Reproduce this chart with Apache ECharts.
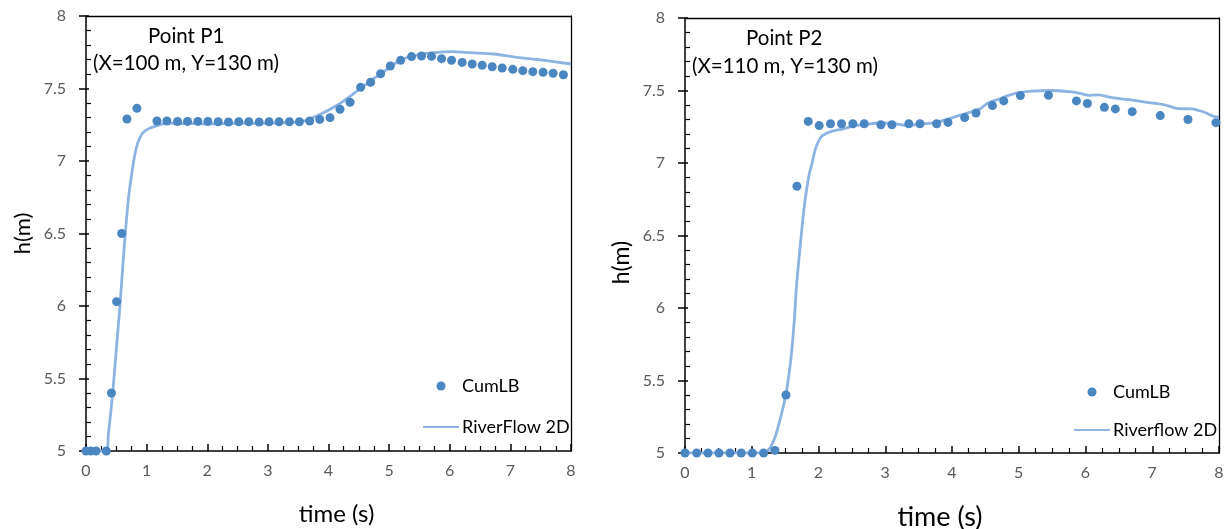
<!DOCTYPE html>
<html>
<head>
<meta charset="utf-8">
<script src="https://cdn.jsdelivr.net/npm/echarts@6/dist/echarts.min.js"></script>
<style>
  html, body { margin: 0; padding: 0; background: #fff; }
  #chart { width: 1229px; height: 529px; }
</style>
</head>
<body>
<div id="chart"></div>
<script>
// Point P1 (X=100 m, Y=130 m): CumLB samples
const p1Time = [0, 0.08, 0.165, 0.335, 0.42, 0.505, 0.588, 0.675, 0.84,
  1.17, 1.334, 1.51, 1.675, 1.845, 2.01, 2.18, 2.35, 2.52, 2.685, 2.855, 3.02,
  3.185, 3.355, 3.52, 3.69, 3.855, 4.025, 4.19, 4.355, 4.53, 4.695, 4.86, 5.02,
  5.19, 5.37, 5.535, 5.70, 5.865, 6.03, 6.205, 6.37, 6.535, 6.70, 6.865, 7.04,
  7.205, 7.37, 7.54, 7.705, 7.875];
const p1CumLB = [5, 5, 5, 5, 5.40, 6.03, 6.50, 7.29, 7.363,
  7.276, 7.276, 7.273, 7.273, 7.273, 7.273, 7.271, 7.269, 7.271, 7.271, 7.269, 7.271,
  7.271, 7.271, 7.271, 7.276, 7.287, 7.299, 7.357, 7.405, 7.508, 7.543, 7.602, 7.655,
  7.694, 7.72, 7.724, 7.722, 7.706, 7.694, 7.68, 7.669, 7.66, 7.65, 7.641, 7.632,
  7.623, 7.616, 7.612, 7.605, 7.595];

// Point P1: RiverFlow 2D result
const p1ModelTime = [0, 0.33, 0.37, 0.44, 0.50, 0.565, 0.62, 0.66, 0.70, 0.75,
  0.80, 0.85, 0.93, 1.04, 1.15, 1.37, 1.48, 1.70, 2.0, 2.5, 3.0, 3.30, 3.54,
  3.84, 4.15, 4.42, 4.64, 4.91, 5.19, 5.46, 5.74, 6.04, 6.34, 6.73, 7.11, 7.50, 8.0];
const p1Model = [5, 5, 5.12, 5.40, 5.70, 6.03, 6.35, 6.56, 6.74, 6.90,
  7.03, 7.12, 7.19, 7.225, 7.24, 7.264, 7.255, 7.26, 7.255, 7.26, 7.26, 7.265, 7.27,
  7.317, 7.386, 7.467, 7.536, 7.616, 7.697, 7.731, 7.747, 7.754, 7.747, 7.738, 7.715, 7.697, 7.669];

// Point P2 (X=110 m, Y=130 m): CumLB samples
const p2Time = [0, 0.175, 0.344, 0.509, 0.674, 0.843, 1.008, 1.178, 1.347, 1.512,
  1.677, 1.846, 2.01, 2.18, 2.345, 2.515, 2.685, 2.934, 3.10, 3.353, 3.52, 3.77,
  3.94, 4.19, 4.36, 4.606, 4.775, 5.025, 5.445, 5.864, 6.028, 6.283, 6.447, 6.70,
  7.12, 7.535, 7.954];
const p2CumLB = [5, 5, 5, 5, 5, 5, 5, 5, 5.018, 5.40,
  6.84, 7.287, 7.258, 7.271, 7.271, 7.271, 7.271, 7.264, 7.264, 7.271, 7.271, 7.271,
  7.28, 7.313, 7.345, 7.396, 7.428, 7.465, 7.467, 7.428, 7.41, 7.384, 7.373, 7.354,
  7.327, 7.30, 7.278];

// Point P2: Riverflow 2D result
const p2ModelTime = [0, 1.20, 1.28, 1.35, 1.43, 1.51, 1.56, 1.60, 1.64, 1.67, 1.72,
  1.77, 1.81, 1.86, 1.90, 1.95, 2.00, 2.05, 2.17, 2.37, 2.52, 2.67, 2.92, 3.17,
  3.32, 3.52, 3.72, 3.92, 4.12, 4.32, 4.42, 4.54, 4.70, 4.84, 5.00, 5.19, 5.49,
  5.79, 5.92, 6.04, 6.19, 6.39, 6.64, 6.89, 7.19, 7.39, 7.59, 7.78, 7.93, 8.0];
const p2Model = [5, 5, 5.04, 5.11, 5.24, 5.40, 5.55, 5.71, 5.93, 6.15, 6.40,
  6.63, 6.78, 6.92, 6.99, 7.09, 7.15, 7.185, 7.215, 7.235, 7.255, 7.264, 7.276, 7.269,
  7.258, 7.269, 7.276, 7.30, 7.33, 7.357, 7.373, 7.414, 7.44, 7.465, 7.485, 7.495, 7.50,
  7.49, 7.48, 7.467, 7.47, 7.451, 7.437, 7.42, 7.40, 7.375, 7.373, 7.35, 7.32, 7.316];

const FONT = 'Lato, "Open Sans", sans-serif';
const DOT = '#4a86c1';
const LINE = '#8db3e2';
const INK = '#000';

const zip = (xs, ys) => xs.map((x, i) => [x, ys[i]]);

const X_RANGE = { min: 0, max: 8, interval: 1 };
const Y_RANGE = { min: 5, max: 8, interval: 0.5 };
const hiddenSplit = () => ({ show: true, lineStyle: { color: 'rgba(0,0,0,0)' } });

// Time axis: labels plus inward major and minor ticks
function timeAxis(gi, nameSize, namePad) {
  return Object.assign({
    type: 'value', gridIndex: gi,
    name: 'time (s)', nameLocation: 'middle', nameGap: 51,
    nameTextStyle: { fontFamily: FONT, fontSize: nameSize, color: INK, padding: namePad },
    axisLine: { show: true, lineStyle: { color: INK, width: 1.5 } },
    axisTick: { show: true, inside: true, length: 7, lineStyle: { color: INK, width: 1.5 } },
    minorTick: { show: true, splitNumber: 4, length: 5, lineStyle: { color: INK, width: 1.2 } },
    axisLabel: { show: true, margin: 12, fontFamily: FONT, fontSize: 16, color: '#595959' },
    splitLine: hiddenSplit()
  }, X_RANGE);
}

function depthAxis(gi, nameSize, namePad) {
  return Object.assign({
    type: 'value', gridIndex: gi, position: 'left',
    name: 'h(m)', nameLocation: 'middle', nameGap: 52, nameRotate: 90,
    nameTextStyle: { fontFamily: FONT, fontSize: nameSize, color: INK, padding: namePad },
    axisLine: { show: true, lineStyle: { color: INK, width: 1.5 } },
    axisTick: { show: true, length: 7, lineStyle: { color: INK, width: 1.5 } },
    axisLabel: { show: true, margin: 20, fontFamily: FONT, fontSize: 16, color: '#595959' },
    splitLine: hiddenSplit()
  }, Y_RANGE);
}
// Same scale, inward major and minor ticks only
function depthTicks(gi) {
  return Object.assign({
    type: 'value', gridIndex: gi, position: 'left',
    axisLine: { show: false },
    axisTick: { show: true, inside: true, length: 3, lineStyle: { color: INK, width: 1.5 } },
    minorTick: { show: true, splitNumber: 5, length: 5, lineStyle: { color: INK, width: 1.2 } },
    axisLabel: { show: false }, splitLine: hiddenSplit()
  }, Y_RANGE);
}
// Right edge of the plot frame
function rightEdge(gi) {
  return Object.assign({
    type: 'value', gridIndex: gi, position: 'right',
    axisLine: { show: true, lineStyle: { color: INK, width: 1.3 } },
    axisTick: { show: false }, axisLabel: { show: false }, splitLine: hiddenSplit()
  }, Y_RANGE);
}

function modelSeries(name, xi, yi, data) {
  return {
    name, type: 'line', xAxisIndex: xi, yAxisIndex: yi, data,
    symbol: 'none', smooth: 0.3, z: 2,
    lineStyle: { color: LINE, width: 2.8 }, itemStyle: { color: LINE }
  };
}
// Measured points; the top edge of the frame is a mark line at h = 8
function pointSeries(xi, yi, data) {
  return {
    name: 'CumLB', type: 'scatter', xAxisIndex: xi, yAxisIndex: yi, data,
    symbol: 'circle', symbolSize: 9, z: 3,
    itemStyle: { color: DOT, opacity: 1 },
    markLine: {
      silent: true, symbol: 'none', animation: false,
      label: { show: false },
      lineStyle: { color: INK, width: 1.3, type: 'solid' },
      emphasis: { disabled: true },
      data: [{ yAxis: Y_RANGE.max }]
    }
  };
}

function legendAt(left, top, gap, lineName) {
  return {
    orient: 'vertical', left, top, itemGap: gap, itemWidth: 36, itemHeight: 9,
    selectedMode: false, padding: 0,
    textStyle: { fontFamily: FONT, fontSize: 18, color: INK, padding: [0, 0, 0, -2] },
    data: [
      { name: 'CumLB', icon: 'circle' },
      { name: lineName, itemStyle: { opacity: 0 } }
    ]
  };
}

function label(text, left, top) {
  return {
    text, left, top, padding: 0,
    textStyle: { fontFamily: FONT, fontSize: 20.5, fontWeight: 'normal', color: INK }
  };
}

const chart = echarts.init(document.getElementById('chart'), null, { renderer: 'canvas' });
chart.setOption({
  animation: false,
  backgroundColor: '#fff',
  title: [
    label('Point P1', 148, 26),
    label('(X=100 m, Y=130 m)', 93, 53),
    label('Point P2', 746, 28),
    label('(X=110 m, Y=130 m)', 692, 56)
  ],
  grid: [
    { left: 86, right: 658, top: 16, bottom: 78, outerBoundsMode: 'none' },
    { left: 685, right: 10, top: 18, bottom: 76, outerBoundsMode: 'none' }
  ],
  xAxis: [
    timeAxis(0, 24, [0, 0, 0, 16]),
    timeAxis(1, 27, [0, 24, 0, 0])
  ],
  yAxis: [
    depthAxis(0, 22, [0, 0, 0, 0]), depthTicks(0), rightEdge(0),
    depthAxis(1, 23, [0, 54, 0, 0]), depthTicks(1), rightEdge(1)
  ],
  legend: [legendAt(422, 377, 23, 'RiverFlow 2D'), legendAt(1073, 383, 20, 'Riverflow 2D')],
  series: [
    modelSeries('RiverFlow 2D', 0, 0, zip(p1ModelTime, p1Model)),
    pointSeries(0, 0, zip(p1Time, p1CumLB)),
    modelSeries('Riverflow 2D', 1, 3, zip(p2ModelTime, p2Model)),
    pointSeries(1, 3, zip(p2Time, p2CumLB))
  ]
});
</script>
</body>
</html>
